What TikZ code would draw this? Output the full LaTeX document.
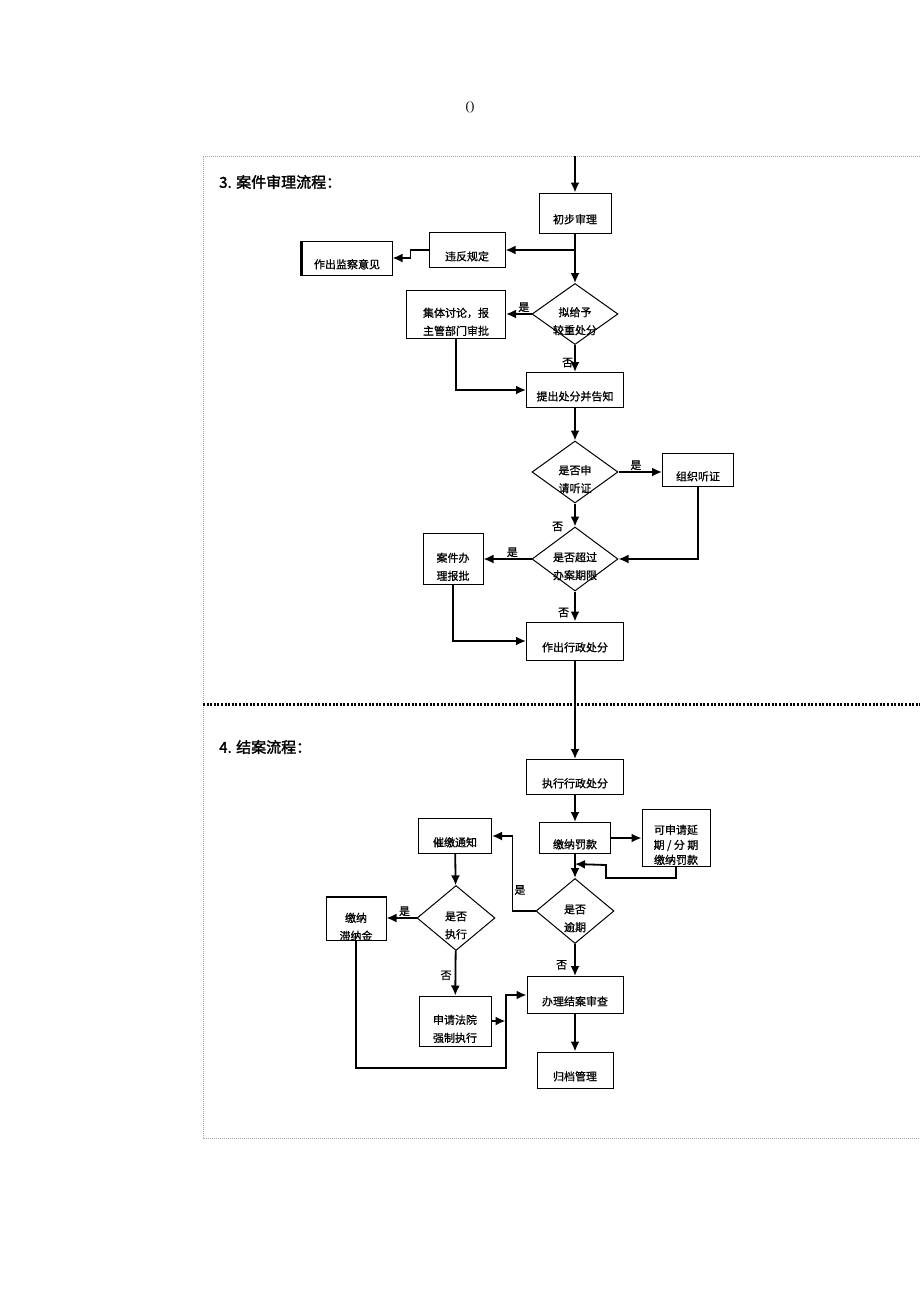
\documentclass[tikz,border=0pt]{standalone}
\usepackage{fontspec}
\setmainfont{Noto Sans CJK SC}
\newfontfamily\titlefont[FakeBold=2]{Noto Sans CJK SC}
\newfontfamily\boxfont[FakeBold=0.8]{Noto Sans CJK SC}
\newfontfamily\serifft{Liberation Serif}
\usetikzlibrary{shapes.geometric, arrows.meta}
% diamond text, set a little below the middle as in the scan
\newcommand{\dtext}[1]{\smash{\raisebox{-10.5pt}{\begin{tabular}{@{}c@{}}#1\end{tabular}}}}

\begin{document}
\begin{tikzpicture}
            [x=1pt, y=-1pt, >={Latex[length=10pt,width=9pt]}, line width=1.8pt,
             box/.style={draw, line width=1pt, rectangle, inner sep=0pt, align=center,
                         font=\boxfont\fontsize{11}{18}\selectfont, text height=21pt, text depth=0pt},
             twoline/.style={text height=42pt, text depth=0pt},
             dia/.style={draw, line width=1pt, diamond, inner sep=0pt,
                         font=\boxfont\fontsize{11}{18}\selectfont},
             lbl/.style={font=\boxfont\fontsize{11}{13}\selectfont, inner sep=1pt},
             frame/.style={gray!70, line width=0.6pt, dash pattern=on 1pt off 1pt}]
            \useasboundingbox (0,0) rectangle (920,1302);

            % page frame
            \node[font=\serifft\fontsize{13}{13}\selectfont] (paren) at (470,107) {()};
            \draw[frame] (920,156) -- (203,156) -- (203,1138) -- (920,1138);
            \draw[line width=3pt, dash pattern=on 2pt off 1.6pt] (203,704) -- (920,704);

            % 3. case hearing
            \node[anchor=west, font=\titlefont\fontsize{15}{15}\selectfont] (title3) at (215,182) {3. 案件审理流程：};
            \coordinate (top3) at (575,156);
            \node[box, minimum width=72pt, minimum height=40pt] (chubu) at (575,213) {初步审理};
            \node[box, minimum width=76pt, minimum height=35pt] (weifan) at (467,250) {违反规定};
            \node[box, minimum width=90pt, minimum height=34pt] (jiancha) at (347,258) {作出监察意见};
            \draw[line width=2.5pt] (jiancha.north west) -- (jiancha.south west);
            \node[dia, minimum width=86pt, minimum height=61pt] (nigei) at (575,314) {\dtext{拟给予\\较重处分}};
            \node[box, twoline, minimum width=99pt, minimum height=48pt] (jiti) at (456,314) {集体讨论，报\\主管部门审批};
            \node[box, minimum width=97pt, minimum height=35pt] (tichu) at (575,390) {提出处分并告知};
            \node[dia, minimum width=86pt, minimum height=62pt] (tingzheng) at (575,472) {\dtext{是否申\\请听证}};
            \node[box, minimum width=71pt, minimum height=33pt] (zuzhi) at (698,470) {组织听证};
            \node[dia, minimum width=86pt, minimum height=64pt] (chaoguo) at (575,559) {\dtext{是否超过\\办案期限}};
            \node[box, twoline, minimum width=60pt, minimum height=51pt] (baopi) at (453,559) {案件办\\理报批};
            \node[box, minimum width=97pt, minimum height=38pt] (xingzheng) at (575,641) {作出行政处分};

            \draw[->] (top3) -- (chubu);
            \draw[->] (chubu) -- (nigei);
            \draw[->] (chubu.south |- weifan.east) -- (weifan.east);
            \draw[->] (weifan.west) -- ++(-18,0) |- (jiancha.east);
            \draw[->] (nigei.west) -- (jiti.east) node[lbl, pos=0.3, above] {是};
            \draw[->] (nigei) -- (tichu) node[lbl, pos=0.65, left] {否};
            \draw[->] (jiti.south) |- (tichu.west);
            \draw[->] (tichu) -- (tingzheng);
            \draw[->] (tingzheng.east) -- (tingzheng.east -| zuzhi.west) node[lbl, pos=0.4, above] {是};
            \draw[->] (tingzheng) -- (chaoguo) node[lbl, pos=1, left=10pt] {否};
            \draw[->] (zuzhi.south) |- (chaoguo.east);
            \draw[->] (chaoguo.west) -- (baopi.east) node[lbl, pos=0.4, above] {是};
            \draw[->] (chaoguo) -- (xingzheng) node[lbl, pos=0.7, left=4pt] {否};
            \draw[->] (baopi.south) |- (xingzheng.west);

            % 4. case closing
            \node[anchor=west, font=\titlefont\fontsize{15}{15}\selectfont] (title4) at (215,747) {4. 结案流程：};
            \node[box, minimum width=97pt, minimum height=35pt] (zhixing) at (575,777) {执行行政处分};
            \node[box, minimum width=71pt, minimum height=31pt] (fakuan) at (575,838) {缴纳罚款};
            \node[box, minimum width=68pt, minimum height=57pt, text height=52pt,
                  font=\boxfont\fontsize{11}{15}\selectfont] (yanqi) at (676,838) {可申请延\\期 / 分 期\\缴纳罚款};
            \coordinate (ret) at (575,864);
            \node[dia, minimum width=78pt, minimum height=65pt] (yuqi) at (575,911) {\dtext{是否\\逾期}};
            \node[box, minimum width=73pt, minimum height=35pt] (cuijiao) at (455,836) {催缴通知};
            \node[dia, minimum width=78pt, minimum height=65pt] (shifou) at (456,918) {\dtext{是否\\执行}};
            \node[box, twoline, minimum width=60pt, minimum height=43pt] (zhinajin) at (356,919) {缴纳\\滞纳金};
            \draw[line width=2.5pt] (zhinajin.north west) -- (zhinajin.north east);
            \node[box, twoline, minimum width=72pt, minimum height=50pt] (fayuan) at (455,1021) {申请法院\\强制执行};
            \node[box, minimum width=96pt, minimum height=37pt] (jiean) at (575,995) {办理结案审查};
            \node[box, minimum width=76pt, minimum height=36pt] (guidang) at (575,1070) {归档管理};

            \draw[->] (xingzheng) -- (zhixing);
            \draw[->] (zhixing) -- (fakuan);
            \draw[->] (fakuan.east) -- (fakuan.east -| yanqi.west);
            \draw[->] (yanqi.south) -- ++(0,11) -- ++(-70,0) -- ++(0,-13) -- (ret);
            \draw[->] (fakuan) -- (yuqi);
            \draw[->] (yuqi.west) -- ++(-23,0) |- (cuijiao.east) node[lbl, pos=0.14, right] {是};
            \draw[->] (cuijiao) -- (shifou);
            \draw[->] (shifou.west) -- (shifou.west -| zhinajin.east) node[lbl, pos=0.4, above] {是};
            \draw[->] (shifou) -- (fayuan) node[lbl, pos=0.55, left=2pt] {否};
            \draw[->] (fayuan.east) -- ++(14,0);
            \draw[->] (zhinajin.south) |- (506,1068) |- (jiean.west);
            \draw[->] (yuqi) -- (jiean) node[lbl, pos=0.65, left=6pt] {否};
            \draw[->] (jiean) -- (guidang);
        \end{tikzpicture}
\end{document}
